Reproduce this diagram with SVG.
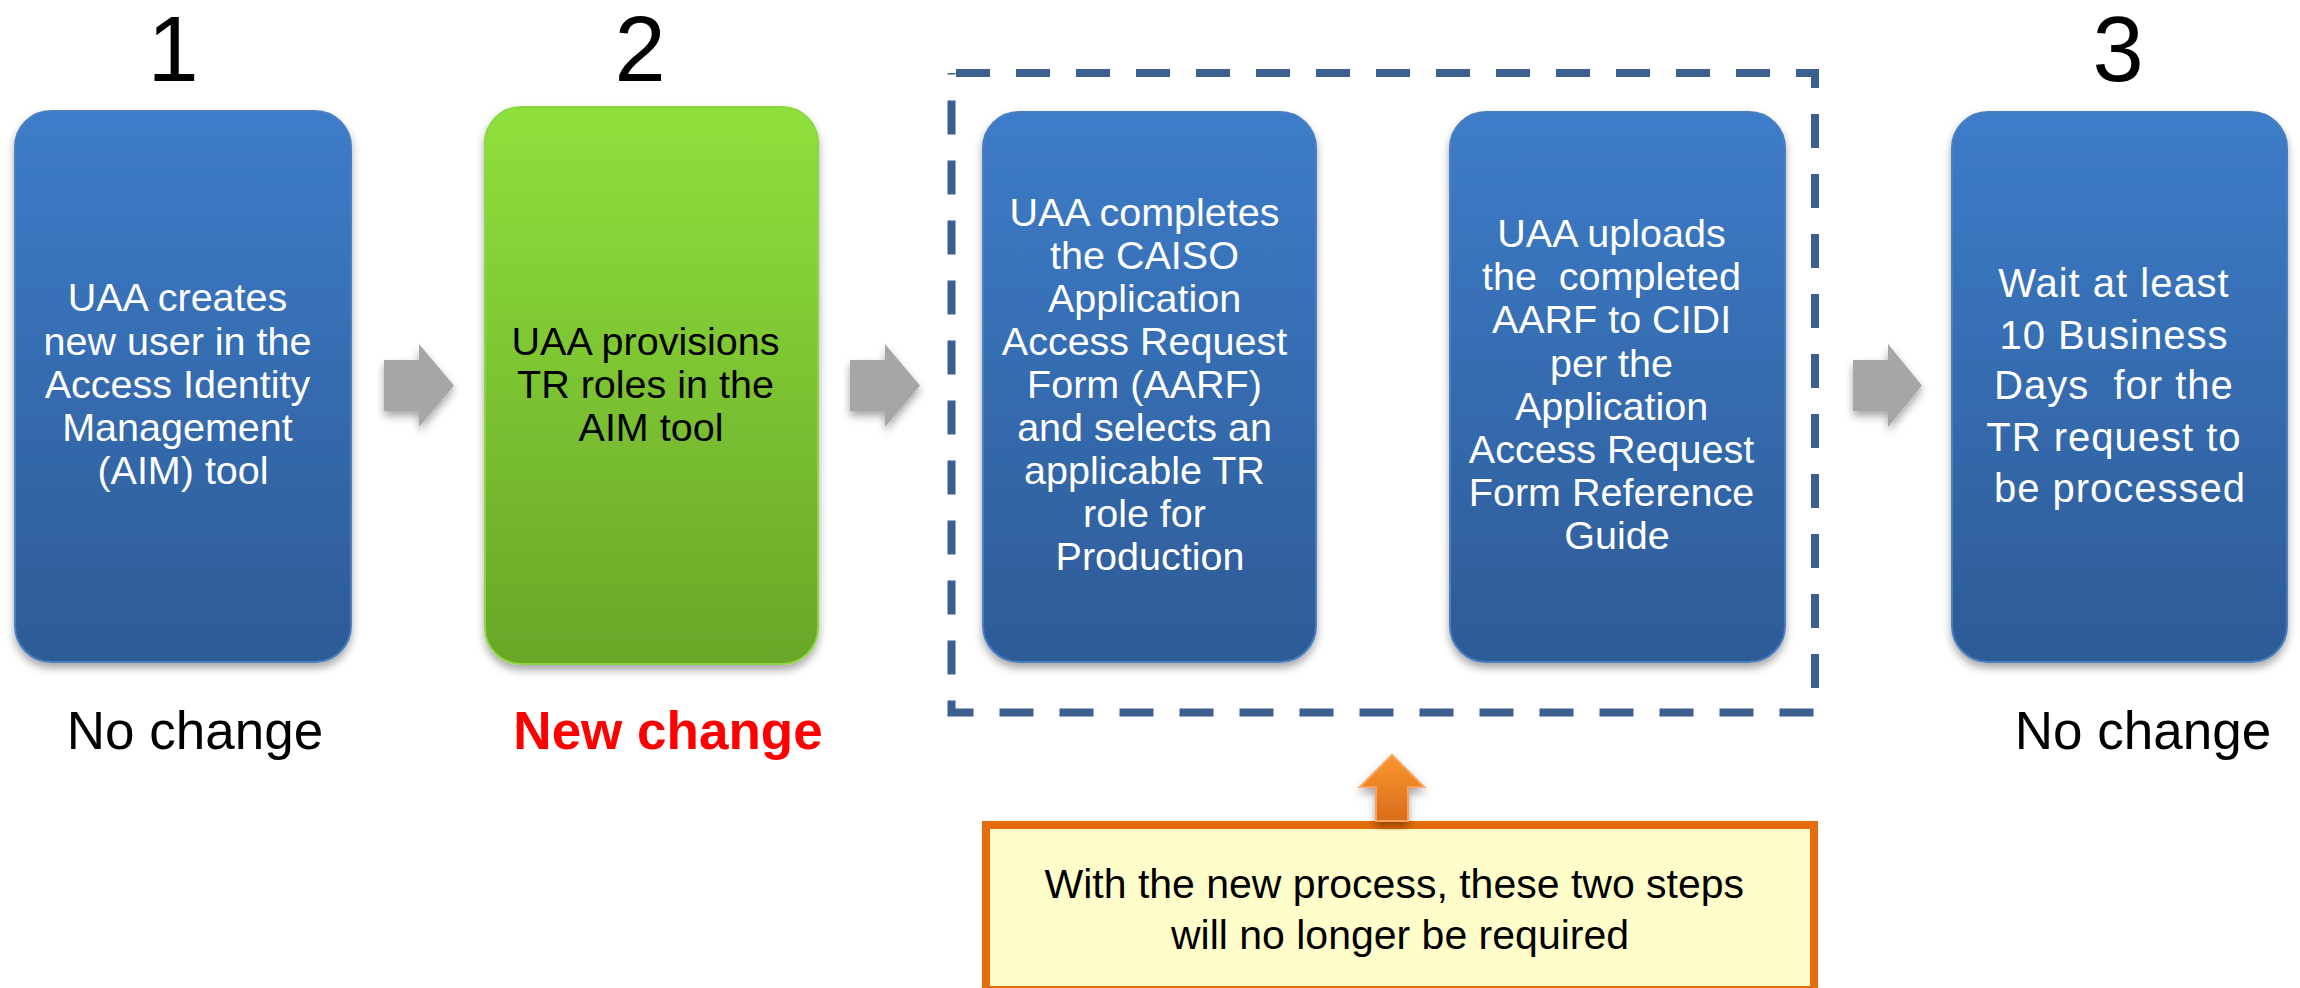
<svg xmlns="http://www.w3.org/2000/svg" width="2300" height="988" viewBox="0 0 2300 988">
  <defs>
    <linearGradient id="gBlue" x1="0" y1="0" x2="0" y2="1">
      <stop offset="0" stop-color="#3D7CC9"/>
      <stop offset="1" stop-color="#2D5B96"/>
    </linearGradient>
    <linearGradient id="gGreen" x1="0" y1="0" x2="0" y2="1">
      <stop offset="0" stop-color="#8FE03C"/>
      <stop offset="1" stop-color="#69A628"/>
    </linearGradient>
    <linearGradient id="gOrange" x1="0" y1="0" x2="0" y2="1">
      <stop offset="0" stop-color="#F9962F"/>
      <stop offset="1" stop-color="#DC6C1C"/>
    </linearGradient>
    <filter id="shadow" x="-10%" y="-10%" width="120%" height="125%">
      <feDropShadow dx="0" dy="5" stdDeviation="4" flood-color="#000" flood-opacity="0.35"/>
    </filter>
  </defs>
  <style>
    .box { fill: url(#gBlue); stroke: #4A7FC0; stroke-width: 2; filter: url(#shadow); }
    .green { fill: url(#gGreen); stroke: #8CD642; stroke-width: 2; filter: url(#shadow); }
    .txt { font-family: "Liberation Sans", Arial, sans-serif; font-size: 39.5px; text-anchor: middle; fill: #FFFFFF; }
    .txt5 { font-family: "Liberation Sans", Arial, sans-serif; font-size: 40px; letter-spacing: 1px; text-anchor: middle; fill: #FFFFFF; }
    .dark { fill: #000000; }
    .num { font-family: "Liberation Sans", Arial, sans-serif; font-size: 92px; text-anchor: middle; fill: #000000; }
    .lbl { font-family: "Liberation Sans", Arial, sans-serif; font-size: 53px; text-anchor: middle; fill: #000000; }
    .red { fill: #FF0000; font-weight: bold; }
    .arrow { fill: #A6A6A6; filter: url(#shadow); }
    .note { font-family: "Liberation Sans", Arial, sans-serif; font-size: 41px; text-anchor: middle; fill: #000000; }
  </style>

  <rect width="2300" height="988" fill="#FFFFFF"/>

  <g id="numbers">
    <text class="num" x="173" y="81">1</text>
    <text class="num" x="640" y="81">2</text>
    <text class="num" x="2118" y="81">3</text>
    <text class="lbl" x="195" y="749">No change</text>
    <text class="lbl red" x="668" y="749">New change</text>
    <text class="lbl" x="2143" y="749">No change</text>
  </g>

  <g id="step1">
    <rect class="box" x="15" y="111" width="336" height="551" rx="36" ry="36"/>
    <text class="txt">
      <tspan x="183" y="311">UAA creates</tspan>
      <tspan x="183" y="355">new user in the</tspan>
      <tspan x="183" y="398">Access Identity</tspan>
      <tspan x="183" y="441">Management</tspan>
      <tspan x="183" y="484">(AIM) tool</tspan>
    </text>
  </g>

  <g id="step2">
    <rect class="green" x="485" y="107" width="333" height="557" rx="36" ry="36"/>
    <text class="txt dark">
      <tspan x="651" y="355">UAA provisions</tspan>
      <tspan x="651" y="398">TR roles in the</tspan>
      <tspan x="651" y="441">AIM tool</tspan>
    </text>
  </g>

  <g id="group-removed">
    <rect x="951.5" y="73" width="863.5" height="639.5" fill="none" stroke="#3B5F8E" stroke-width="8" stroke-dasharray="34 26" stroke-dashoffset="-4.5"/>
  </g>

  <g id="step-aarf">
    <rect class="box" x="983" y="112" width="333" height="550" rx="36" ry="36"/>
    <text class="txt">
      <tspan x="1150" y="226">UAA completes</tspan>
      <tspan x="1150" y="269">the CAISO</tspan>
      <tspan x="1150" y="312">Application</tspan>
      <tspan x="1150" y="355">Access Request</tspan>
      <tspan x="1150" y="398">Form (AARF)</tspan>
      <tspan x="1150" y="441">and selects an</tspan>
      <tspan x="1150" y="484">applicable TR</tspan>
      <tspan x="1150" y="527">role for</tspan>
      <tspan x="1150" y="570">Production</tspan>
    </text>
  </g>

  <g id="step-upload">
    <rect class="box" x="1450" y="112" width="335" height="550" rx="36" ry="36"/>
    <text class="txt">
      <tspan x="1617" y="247">UAA uploads</tspan>
      <tspan x="1617" y="290">the&#160; completed</tspan>
      <tspan x="1617" y="333">AARF to CIDI</tspan>
      <tspan x="1617" y="377">per the</tspan>
      <tspan x="1617" y="420">Application</tspan>
      <tspan x="1617" y="463">Access Request</tspan>
      <tspan x="1617" y="506">Form Reference</tspan>
      <tspan x="1617" y="549">Guide</tspan>
    </text>
  </g>

  <g id="step3">
    <rect class="box" x="1952" y="112" width="335" height="550" rx="36" ry="36"/>
    <text class="txt5">
      <tspan x="2120" y="297">Wait at least</tspan>
      <tspan x="2120" y="349">10 Business</tspan>
      <tspan x="2120" y="399">Days&#160; for the</tspan>
      <tspan x="2120" y="451">TR request to</tspan>
      <tspan x="2120" y="502">be processed</tspan>
    </text>
  </g>

  <g id="note">
    <rect x="986" y="825" width="828" height="165" fill="#FFFDC9" stroke="#E46C0A" stroke-width="8"/>
    <text class="note">
      <tspan x="1400" y="898">With the new process, these two steps</tspan>
      <tspan x="1400" y="949">will no longer be required</tspan>
    </text>
  </g>

  <g id="connectors">
    <path class="arrow" d="M384,360 H419 V344 L454,385.5 L419,427 V411 H384 Z"/>
    <path class="arrow" d="M850,360 H885 V344 L920,385.5 L885,427 V411 H850 Z"/>
    <path class="arrow" d="M1853,360 H1888 V344 L1922,385.5 L1888,427 V411 H1853 Z"/>
    <path d="M1376,821 V787 H1360 L1392,755 L1424,787 H1408 V821 Z" fill="url(#gOrange)" stroke="#F7A45A" stroke-width="2" filter="url(#shadow)"/>
  </g>
</svg>
